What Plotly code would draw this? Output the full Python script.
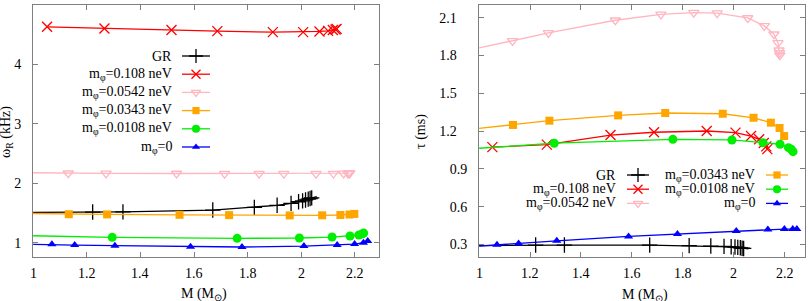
import plotly.graph_objects as go

W, H = 809, 301

# ---------------- data ----------------
# GR
gr_M = [1.222, 1.335, 1.670, 1.825, 1.910, 1.962, 1.990, 2.005, 2.016, 2.026, 2.033, 2.039]
gr_omega = [1.517, 1.520, 1.550, 1.596, 1.630, 1.663, 1.690, 1.705, 1.720, 1.735, 1.745, 1.755]
gr_tau = [0.295, 0.295, 0.294, 0.290, 0.287, 0.284, 0.281, 0.279, 0.276, 0.273, 0.270, 0.268]
# m_phi = 0.108 neV
red_M = [1.052, 1.266, 1.516, 1.687, 1.894, 2.007, 2.068, 2.100, 2.118, 2.128, 2.132]
red_omega = [4.635, 4.607, 4.580, 4.562, 4.545, 4.545, 4.557, 4.567, 4.580, 4.590, 4.600]
red_tau = [1.072, 1.092, 1.168, 1.190, 1.200, 1.187, 1.160, 1.134, 1.105, 1.078, 1.056]
# m_phi = 0.0542 neV
pink_M = [1.131, 1.272, 1.535, 1.714, 1.843, 1.935, 2.055, 2.120, 2.158, 2.174, 2.178, 2.180, 2.181]
pink_omega = [2.170, 2.168, 2.166, 2.164, 2.163, 2.163, 2.164, 2.165, 2.167, 2.168, 2.170, 2.171, 2.172]
pink_tau = [1.915, 1.978, 2.079, 2.126, 2.140, 2.136, 2.097, 2.034, 1.968, 1.899, 1.841, 1.820, 1.801]
# m_phi = 0.0343 neV
orange_M = [1.133, 1.276, 1.546, 1.731, 1.957, 2.078, 2.146, 2.180, 2.198]
orange_omega = [1.480, 1.477, 1.470, 1.465, 1.460, 1.462, 1.467, 1.475, 1.485]
orange_tau = [1.248, 1.282, 1.324, 1.343, 1.337, 1.305, 1.266, 1.224, 1.160]
# m_phi = 0.0108 neV
green_M = [1.295, 1.761, 1.993, 2.115, 2.182, 2.215, 2.226, 2.233]
green_omega = [1.091, 1.074, 1.080, 1.096, 1.113, 1.130, 1.146, 1.163]
green_tau = [1.103, 1.134, 1.129, 1.107, 1.095, 1.068, 1.055, 1.036]
# m_phi = 0
blue_M = [1.070, 1.155, 1.305, 1.587, 1.779, 2.010, 2.134, 2.199, 2.232, 2.248]
blue_omega = [0.973, 0.961, 0.950, 0.933, 0.928, 0.944, 0.961, 0.978, 1.000, 1.030]
blue_tau = [0.297, 0.308, 0.328, 0.363, 0.383, 0.407, 0.419, 0.422, 0.422, 0.422]

# fitted curves continue to M = 1 (values of each curve read at M = 1)
curve_start_M = [1.0, None, 1.0, 1.0, 1.0, 1.0]
curve_start_omega = [1.512, None, 2.178, 1.492, 1.118, 0.973]
curve_start_tau = [0.290, None, 1.859, 1.221, 1.063, 0.287]
# GR curve extends a little beyond its last marker
gr_end_M = [2.058]
gr_end_omega = [1.775]
gr_end_tau = [0.264]

labels = ["GR", "m<sub>φ</sub>=0.108 neV", "m<sub>φ</sub>=0.0542 neV",
          "m<sub>φ</sub>=0.0343 neV", "m<sub>φ</sub>=0.0108 neV", "m<sub>φ</sub>=0"]

x_ticks = [1, 1.2, 1.4, 1.6, 1.8, 2, 2.2]
x_ticktext = ["1", "1.2", "1.4", "1.6", "1.8", "2", "2.2"]
omega_ticks = [1, 2, 3, 4, 5]
tau_ticks = [0.3, 0.6, 0.9, 1.2, 1.5, 1.8, 2.1]
tau_ticktext = ["0.3", "0.6", "0.9", "1.2\u00a0\u00a0\u00a0", "1.5\u00a0\u00a0\u00a0",
                "1.8\u00a0\u00a0\u00a0", "2.1\u00a0\u00a0\u00a0"]

# ---------------- styles ----------------
colors = ["#000000", "#ff0000", "#ffb6c1", "#ffa500", "#00ee00", "#0000ff"]
symbols = ["cross-thin", "x-thin", "triangle-down-open", "square", "circle", "triangle-up"]
msizes = [11, 10, 9, 8, 9, 8]

series_M = [gr_M, red_M, pink_M, orange_M, green_M, blue_M]
series_omega = [gr_omega, red_omega, pink_omega, orange_omega, green_omega, blue_omega]
series_tau = [gr_tau, red_tau, pink_tau, orange_tau, green_tau, blue_tau]

FONT = "Liberation Serif"
fig = go.Figure()


def marker_style(i, scale=1.0):
    thin = symbols[i] in ("cross-thin", "x-thin", "triangle-down-open")
    return dict(symbol=symbols[i], size=msizes[i] * scale, color=colors[i],
                line=dict(color=colors[i], width=1.3 if thin else 0))


for i in range(6):
    for vals, starts, ends, xa, ya in (
        (series_omega[i], curve_start_omega, gr_end_omega, "x", "y"),
        (series_tau[i], curve_start_tau, gr_end_tau, "x2", "y2"),
    ):
        cx = list(series_M[i])
        cy = list(vals)
        if curve_start_M[i] is not None:
            cx = [curve_start_M[i]] + cx
            cy = [starts[i]] + cy
        if i == 0:
            cx = cx + gr_end_M
            cy = cy + ends
        fig.add_trace(go.Scatter(x=cx, y=cy, mode="lines", xaxis=xa, yaxis=ya,
                                 line=dict(color=colors[i], width=1.3),
                                 showlegend=False, hoverinfo="skip"))
        fig.add_trace(go.Scatter(x=series_M[i], y=vals, mode="markers", xaxis=xa, yaxis=ya,
                                 marker=marker_style(i), showlegend=False,
                                 cliponaxis=False))

# ---------------- layout geometry (pixels) ----------------
L1, R1 = 33, 379
L2, R2 = 479, 805
TOP, BOT = 5, 257
XLABEL_Y = 273

axis_common = dict(showline=True, linecolor="#7f7f7f", linewidth=1, mirror="ticks",
                   ticks="inside", ticklen=5, tickcolor="#7f7f7f", tickwidth=1,
                   showgrid=False, zeroline=False,
                   tickfont=dict(family=FONT, size=14, color="black"))

ydom = [(H - BOT) / H, (H - TOP) / H]
fig.update_layout(
    width=W, height=H, margin=dict(l=0, r=0, t=0, b=0),
    paper_bgcolor="white", plot_bgcolor="rgba(0,0,0,0)",
    font=dict(family=FONT, size=14, color="black"),
    showlegend=False,
    xaxis=dict(domain=[L1 / W, R1 / W], range=[0.9995, 2.29], tickvals=x_ticks,
               anchor="y", showticklabels=False, **axis_common),
    yaxis=dict(domain=ydom, range=[0.76, 5.002], tickvals=omega_ticks,
               anchor="x", ticklabelstandoff=8, **axis_common),
    xaxis2=dict(domain=[L2 / W, R2 / W], range=[0.9995, 2.28], tickvals=x_ticks,
                anchor="y2", showticklabels=False, **axis_common),
    yaxis2=dict(domain=ydom, range=[0.2, 2.2], tickvals=tau_ticks, ticktext=tau_ticktext,
                anchor="x2", ticklabelstandoff=8, **axis_common),
    xaxis3=dict(domain=[0, 1], range=[0, W], visible=False, anchor="y3", fixedrange=True),
    yaxis3=dict(domain=[0, 1], range=[H, 0], visible=False, anchor="x3", fixedrange=True),
)

annotations = [
    dict(text="ω<sub>R</sub> (kHz)", x=6 / W, y=1 - 132 / H, textangle=-90,
         xanchor="center", yanchor="middle"),
    dict(text="τ (ms)", x=421 / W, y=1 - 132 / H, textangle=-90,
         xanchor="center", yanchor="middle"),
    dict(text="M (M<sub>⊙</sub>)", x=204 / W, y=1 - 284 / H, xanchor="center", yanchor="top"),
    dict(text="M (M<sub>⊙</sub>)", x=645 / W, y=1 - 285 / H, xanchor="center", yanchor="top"),
]
# x tick labels placed at the tick values of each x axis
for xref in ("x", "x2"):
    for t, s in zip(x_ticks, x_ticktext):
        annotations.append(dict(text=s, x=t, xref=xref, y=1 - XLABEL_Y / H,
                                xanchor="center", yanchor="middle"))
for a in annotations:
    a.setdefault("xref", "paper")
    a.update(yref="paper", showarrow=False,
             font=dict(family=FONT, size=14, color="black"))

# ---------------- keys (gnuplot style: text right, sample to the right) ----------------
key_entries = []
for i in range(6):
    key_entries.append((i, 174, 182, 210, 56 + i * 18.2))
for j in range(6):
    col = j // 3
    row = j % 3
    tx = 618 if col == 0 else 757
    key_entries.append((j, tx, tx + 9, tx + 31, 175 + row * 14.2))

for i, tx, s0, s1, yy in key_entries:
    annotations.append(dict(text=labels[i], x=tx / W, y=1 - yy / H, xref="paper", yref="paper",
                            showarrow=False, xanchor="right", yanchor="middle",
                            font=dict(family=FONT, size=14, color="black")))
    fig.add_trace(go.Scatter(x=[s0, s1], y=[yy, yy], mode="lines", xaxis="x3", yaxis="y3",
                             line=dict(color=colors[i], width=1.3), showlegend=False,
                             hoverinfo="skip"))
    fig.add_trace(go.Scatter(x=[(s0 + s1) / 2], y=[yy], mode="markers", xaxis="x3", yaxis="y3",
                             marker=marker_style(i, 0.9), showlegend=False, hoverinfo="skip",
                             cliponaxis=False))

fig.update_layout(annotations=annotations)
fig.write_html("out.html", config={"displayModeBar": False},
               post_script="document.body.style.margin='0px';")
